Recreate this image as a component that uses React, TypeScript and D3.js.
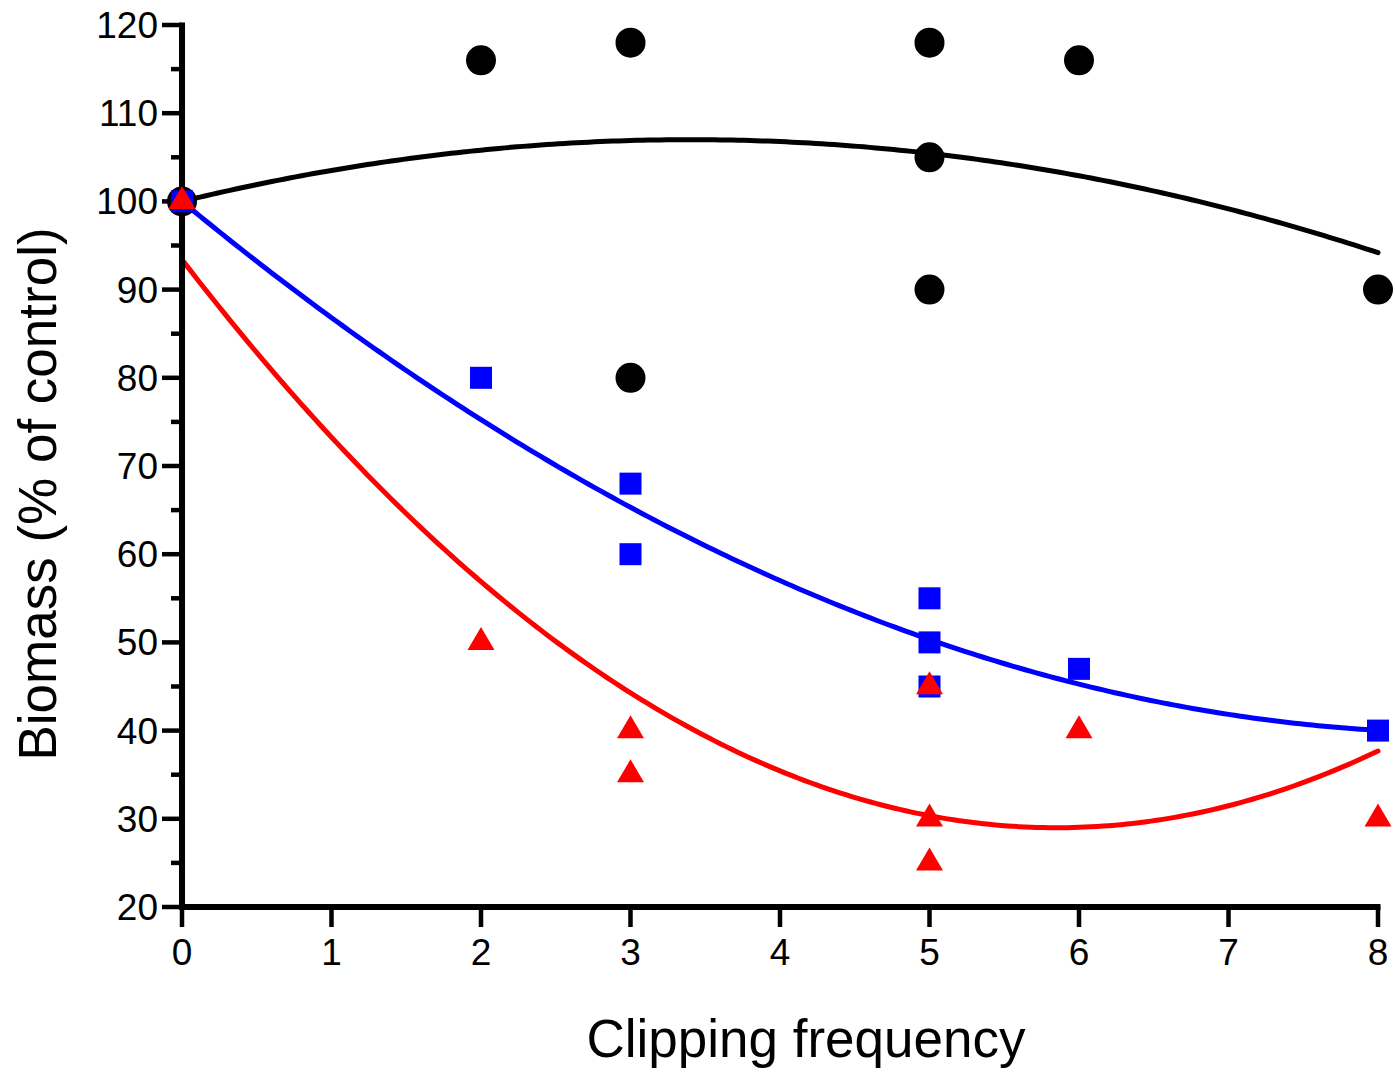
import React from "react";
import * as d3 from "d3";

const xTicks = [0, 1, 2, 3, 4, 5, 6, 7, 8];
const yTicks = [20, 30, 40, 50, 60, 70, 80, 90, 100, 110, 120];
const yMinorTicks = [25, 35, 45, 55, 65, 75, 85, 95, 105, 115];

const blackX = [0, 2, 3, 3, 5, 5, 5, 6, 8];
const blackY = [100, 116, 118, 80, 118, 105, 90, 116, 90];
const blueX = [0, 2, 3, 3, 5, 5, 5, 6, 8];
const blueY = [100, 80, 68, 60, 55, 50, 45, 47, 40];
const redX = [0, 2, 3, 3, 5, 5, 5, 6, 8];
const redY = [100, 50, 40, 35, 45, 30, 25, 40, 30];

// quadratic fit coefficients [a, b, c] : y = a + b x + c x^2
const blackFit = [100, 4.117, -0.6055];
const blueFit = [100, -14.0, 0.813];
const redFit = [93.4, -22.02, 1.882];

const xLabel = "Clipping frequency";
const yLabel = "Biomass (% of control)";

const FONT = "'Liberation Sans', Arial, sans-serif";

export default function App() {
  const x = d3.scaleLinear().domain([0, 8]).range([182, 1378]);
  const y = d3.scaleLinear().domain([20, 120]).range([907, 25]);

  const curve = (coef: number[]) => {
    const pts: [number, number][] = [];
    const n = 200;
    for (let i = 0; i <= n; i++) {
      const xv = (8 * i) / n;
      pts.push([xv, coef[0] + coef[1] * xv + coef[2] * xv * xv]);
    }
    return d3
      .line<[number, number]>()
      .x((d) => x(d[0]))
      .y((d) => y(d[1]))(pts) as string;
  };

  const triW = 27;
  const triH = 23;
  const triPath = `M0,${-(2 / 3) * triH}L${triW / 2},${triH / 3}L${-triW / 2},${triH / 3}Z`;
  const sq = 22;

  return (
    <svg width={1395} height={1073} style={{ display: "block", position: "absolute", left: 0, top: 0 }}>
      <rect width={1395} height={1073} fill="#fff" />
      {/* curves */}
      <path d={curve(blackFit)} fill="none" stroke="#000" strokeWidth={5} strokeLinecap="round" />
      <path d={curve(blueFit)} fill="none" stroke="#0000ff" strokeWidth={5} strokeLinecap="round" />
      <path d={curve(redFit)} fill="none" stroke="#ff0000" strokeWidth={5} strokeLinecap="round" />

      {/* axes */}
      <g stroke="#000" strokeWidth={4.5} strokeLinecap="butt">
        <line x1={x(0)} x2={x(0)} y1={y(20) + 3} y2={y(120) - 2.5} strokeWidth={6} />
        <line x1={x(0) - 3} x2={x(8) + 2.5} y1={y(20)} y2={y(20)} strokeWidth={6} />
        {yTicks.map((t) => (
          <line key={"yt" + t} x1={x(0) - 20} x2={x(0)} y1={y(t)} y2={y(t)} />
        ))}
        {yMinorTicks.map((t) => (
          <line key={"ym" + t} x1={x(0) - 11} x2={x(0)} y1={y(t)} y2={y(t)} />
        ))}
        {xTicks.map((t) => (
          <line key={"xt" + t} x1={x(t)} x2={x(t)} y1={y(20)} y2={y(20) + 20} />
        ))}
      </g>

      {/* tick labels */}
      <g fontFamily={FONT} fontSize={37} fill="#000">
        {yTicks.map((t) => (
          <text key={"yl" + t} x={x(0) - 24} y={y(t) + 13} textAnchor="end">
            {t}
          </text>
        ))}
        {xTicks.map((t) => (
          <text key={"xl" + t} x={x(t)} y={y(20) + 58} textAnchor="middle">
            {t}
          </text>
        ))}
      </g>

      {/* axis titles */}
      <text fontFamily={FONT} fontSize={53} fill="#000" textAnchor="middle" x={806} y={1057}>
        {xLabel}
      </text>
      <text
        fontFamily={FONT}
        fontSize={53}
        fill="#000"
        textAnchor="middle"
        transform={`translate(56,494) rotate(-90)`}
      >
        {yLabel}
      </text>

      {/* markers */}
      {blackX.map((xv, i) => (
        <circle key={"bc" + i} cx={x(xv)} cy={y(blackY[i])} r={15} fill="#000" />
      ))}
      {blueX.map((xv, i) => (
        <rect key={"bs" + i} x={x(xv) - sq / 2} y={y(blueY[i]) - sq / 2} width={sq} height={sq} fill="#0000ff" />
      ))}
      {redX.map((xv, i) => (
        <path key={"rt" + i} d={triPath} transform={`translate(${x(xv)},${y(redY[i])})`} fill="#ff0000" />
      ))}
    </svg>
  );
}
